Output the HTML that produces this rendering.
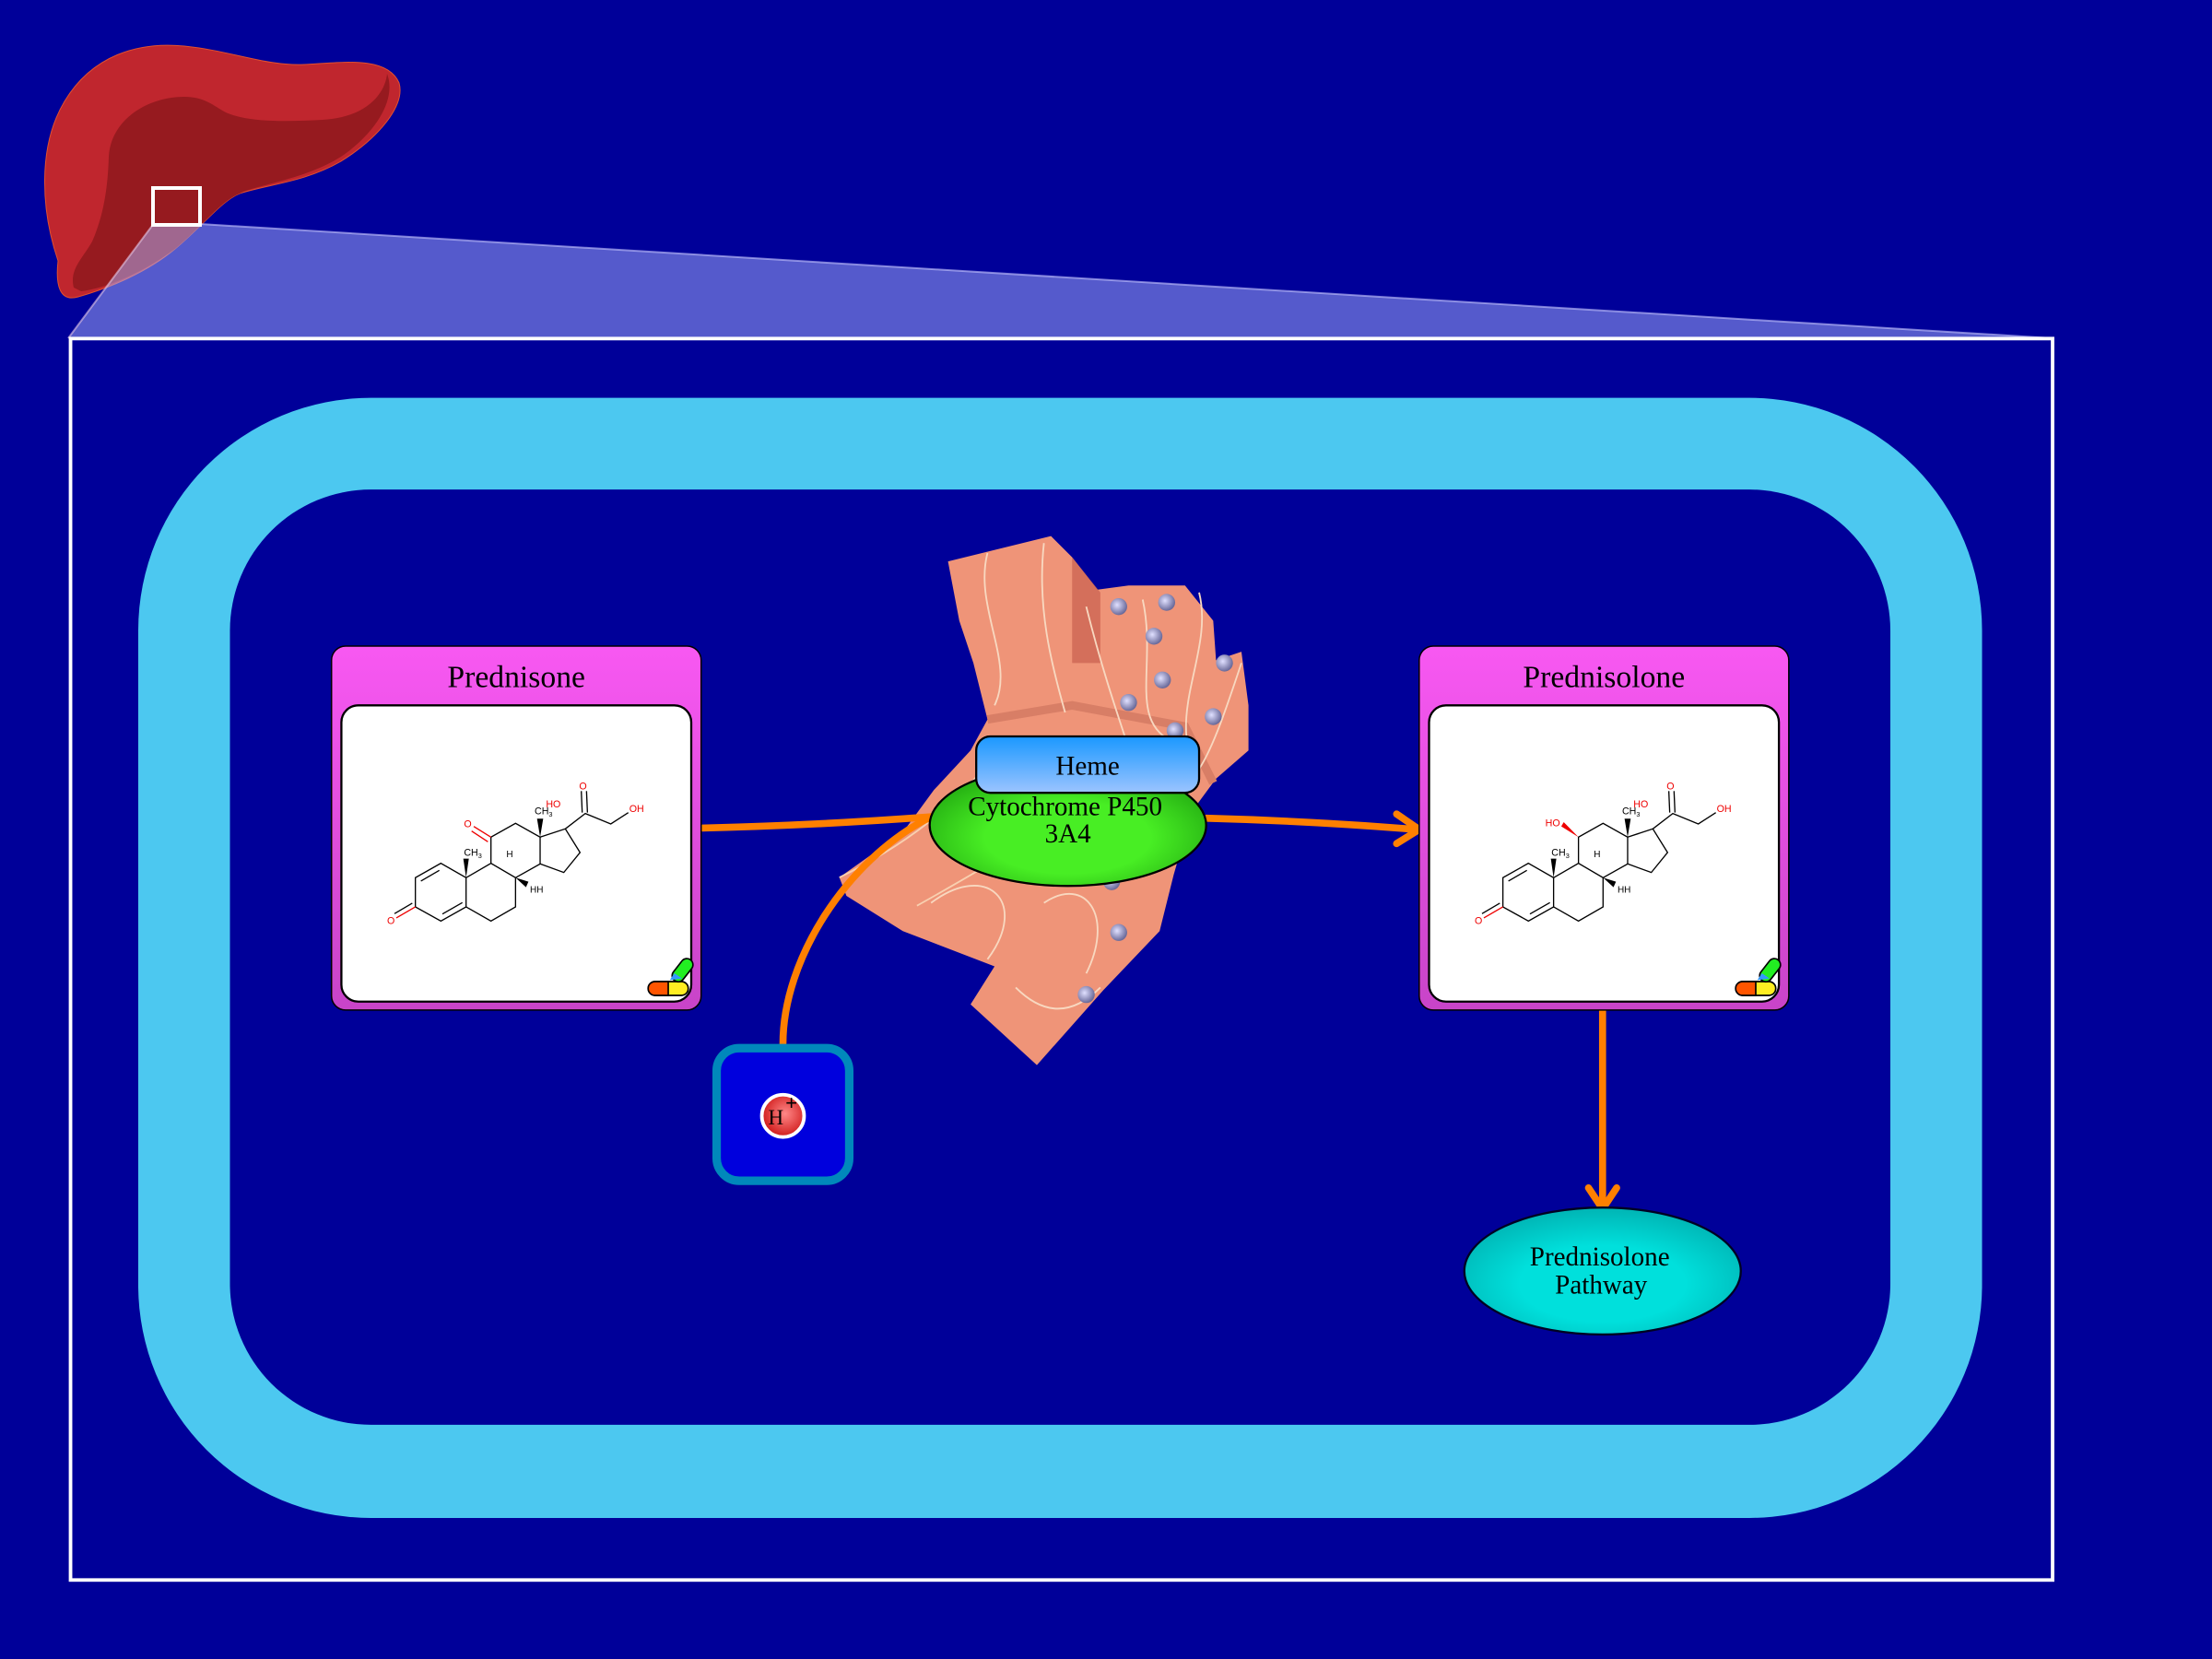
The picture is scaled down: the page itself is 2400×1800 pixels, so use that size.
<!DOCTYPE html>
<html><head><meta charset="utf-8"><style>
html,body{margin:0;padding:0;background:#000099;}
svg{display:block;}
text{font-family:"Liberation Serif",serif;}
.mol text{font-family:"Liberation Sans",sans-serif;}
</style></head><body>
<svg width="2400" height="1800" viewBox="0 0 1568 1176" xmlns="http://www.w3.org/2000/svg">
<defs>
<linearGradient id="box" x1="0" y1="0" x2="0" y2="1"><stop offset="0" stop-color="#f858f2"/><stop offset="1" stop-color="#c844c8"/></linearGradient>
<linearGradient id="heme" x1="0" y1="0" x2="0" y2="1"><stop offset="0" stop-color="#1a98ff"/><stop offset="1" stop-color="#9cc4ff"/></linearGradient>
<radialGradient id="cyp" cx="0.5" cy="0.6" r="0.6"><stop offset="0.5" stop-color="#48ee24"/><stop offset="1" stop-color="#22aa11"/></radialGradient>
<radialGradient id="path" cx="0.5" cy="0.6" r="0.6"><stop offset="0.5" stop-color="#00e0dc"/><stop offset="1" stop-color="#00b4b4"/></radialGradient>
<radialGradient id="hr" cx="0.55" cy="0.45" r="0.6"><stop offset="0" stop-color="#ff8888"/><stop offset="1" stop-color="#cc1111"/></radialGradient>
<radialGradient id="dot" cx="0.4" cy="0.4" r="0.6"><stop offset="0" stop-color="#e0e0ff"/><stop offset="1" stop-color="#6a6a9a"/></radialGradient>
</defs>
<rect width="1568" height="1176" fill="#000099"/>
<g transform="scale(0.65333)">
<path d="M63,283 C45,230 40,160 70,110 C100,60 150,45 200,50 C250,55 290,72 330,70 C370,68 420,60 433,90 C440,115 410,150 370,175 C330,198 290,200 260,210 C240,218 220,245 190,270 C160,295 120,312 85,322 C65,328 60,310 63,283 Z" fill="#c0262e" stroke="#e05030" stroke-width="1"/>
<path d="M80,312 C75,292 90,280 100,262 C112,235 117,205 118,170 C120,130 160,105 200,105 C222,105 232,115 245,122 C270,133 310,132 350,130 C400,127 418,100 420,80 C432,112 400,150 370,170 C330,195 280,200 260,210 C240,218 220,245 190,270 C160,292 120,312 88,316 Z" fill="#961a1f"/>
<polygon points="165,245 217,243 2227,367 74,367" fill="rgba(170,180,255,0.5)"/>
<line x1="165" y1="245" x2="74" y2="367" stroke="rgba(230,200,230,0.6)" stroke-width="2"/>
<line x1="217" y1="243" x2="2227" y2="367" stroke="rgba(200,200,255,0.6)" stroke-width="2"/>
<rect x="166" y="204" width="51" height="40" fill="none" stroke="#fff" stroke-width="4"/>
</g>
<rect x="50" y="240" width="1405" height="880" fill="none" stroke="#fff" stroke-width="2.5"/>
<rect x="98" y="282" width="1307" height="794" rx="165" fill="#4cc8f0"/>
<rect x="163" y="347" width="1177" height="663" rx="100" fill="#000099"/>
<g>
<path d="M672,398 L745,380 L760,395 L778,418 L800,415 L840,415 L860,440 L862,468 L880,462 L885,500 L885,532 L862,552 L845,575 L832,620 L822,660 L782,702 L735,755 L688,712 L705,685 L640,660 L600,635 L595,622 L640,590 L662,560 L688,532 L700,510 L690,470 L680,440 Z" fill="#ef9478"/>
<path d="M760,395 L780,420 L780,470 L760,470 Z" fill="#c9604e" opacity="0.7"/>
<path d="M700,510 L760,500 L840,515 L860,555" fill="none" stroke="#d87e66" stroke-width="6"/>
<path d="M595,622 C640,600 680,570 700,540 M650,642 C690,620 720,600 745,590" fill="none" stroke="#f8d0b0" stroke-width="1.2"/>
<g fill="none" stroke="#f8d8c0" stroke-width="1.2">
<path d="M700,392 C690,430 720,470 705,500 M740,385 C735,430 745,470 755,505"/>
<path d="M770,430 C780,470 790,500 800,530 M810,425 C820,470 800,510 830,525"/>
<path d="M850,420 C860,460 830,500 845,540 M880,470 C870,500 860,530 850,545"/>
<path d="M660,640 C700,610 730,640 700,680 M740,640 C770,620 790,650 770,690 M720,700 C740,720 760,720 780,700"/>
</g>
<g fill="url(#dot)">
<circle cx="793" cy="430" r="6"/><circle cx="827" cy="427" r="6"/><circle cx="818" cy="451" r="6"/><circle cx="824" cy="482" r="6"/><circle cx="868" cy="470" r="6"/><circle cx="800" cy="498" r="6"/><circle cx="860" cy="508" r="6"/><circle cx="833" cy="518" r="6"/><circle cx="788" cy="625" r="6"/><circle cx="793" cy="661" r="6"/><circle cx="770" cy="705" r="6"/>
</g>
</g>
<g fill="none" stroke="#ff8000" stroke-width="5" stroke-linecap="round">
<path d="M497,587 Q580,585 660,579"/>
<path d="M555,740 C555,680 600,610 658,580"/>
<path d="M855,580 Q930,582 1004,588"/>
<polyline points="990,577 1006,588 990,598"/>
<path d="M1136,716 L1136,856"/>
<polyline points="1126,842 1136,857 1146,842"/>
</g>
<rect x="508" y="743" width="94" height="94" rx="16" fill="#0000dd" stroke="#0088bb" stroke-width="6"/>
<circle cx="555" cy="791" r="15" fill="url(#hr)" stroke="#fff" stroke-width="2.5"/>
<text x="550" y="797" font-size="15" text-anchor="middle">H</text>
<text x="561" y="787" font-size="15" font-family="Liberation Sans,sans-serif" font-weight="bold" text-anchor="middle">+</text>
<ellipse cx="757" cy="585" rx="98" ry="43" fill="url(#cyp)" stroke="#000" stroke-width="1.5"/>
<rect x="692" y="522" width="158" height="40" rx="10" fill="url(#heme)" stroke="#000" stroke-width="1.5"/>
<text x="771" y="549" font-size="19" text-anchor="middle">Heme</text>
<text x="755" y="578" font-size="19" text-anchor="middle">Cytochrome P450</text>
<text x="757" y="597" font-size="19" text-anchor="middle">3A4</text>
<ellipse cx="1136" cy="901" rx="98" ry="45" fill="url(#path)" stroke="#002" stroke-width="1.5"/>
<text x="1134" y="897" font-size="19" text-anchor="middle">Prednisolone</text>
<text x="1135" y="917" font-size="19" text-anchor="middle">Pathway</text>
<rect x="235" y="458" width="262" height="258" rx="10" fill="url(#box)" stroke="#000" stroke-width="1"/>
<text x="366" y="487" font-size="22" text-anchor="middle">Prednisone</text>
<rect x="242" y="500" width="248" height="210" rx="12" fill="#fff" stroke="#000" stroke-width="1.5"/>
<g class="mol" transform="translate(235.2,457.3) scale(0.2178)">
<g fill="none" stroke="#000" stroke-width="4">
<polygon points="355,710 272,757 272,852 355,898 437,852 437,757"/>
<line x1="290" y1="768" x2="350" y2="733"/><line x1="360" y1="875" x2="425" y2="838"/>
<polyline points="437,757 518,710 598,757 598,852 518,898 437,852"/>
<polyline points="518,710 518,625 598,580 678,625 678,712 598,757"/>
<polyline points="678,625 760,598 808,675 755,740 678,712"/>
<polyline points="760,598 825,548 908,582 965,545"/>
<line x1="815" y1="545" x2="812" y2="475"/><line x1="832" y1="545" x2="829" y2="475"/>
<line x1="518" y1="625" x2="462" y2="590" stroke="#e00"/><line x1="508" y1="640" x2="455" y2="605" stroke="#e00"/>
<line x1="272" y1="852" x2="210" y2="888" stroke="#e00"/><line x1="262" y1="840" x2="204" y2="874"/>
</g>
<polygon points="437,757 428,695 446,695" fill="#000"/>
<polygon points="678,625 668,565 688,565" fill="#000"/>
<polygon points="598,757 640,770 632,788" fill="#000"/>
<text x="430" y="685" font-size="32">CH<tspan font-size="22" dy="8">3</tspan></text>
<text x="660" y="550" font-size="32">CH<tspan font-size="22" dy="8">3</tspan></text>
<text x="697" y="528" font-size="32" fill="#e00">HO</text>
<text x="805" y="470" font-size="32" fill="#e00">O</text>
<text x="968" y="543" font-size="32" fill="#e00">OH</text>
<text x="430" y="593" font-size="32" fill="#e00">O</text>
<text x="180" y="908" font-size="32" fill="#e00">O</text>
<text x="568" y="690" font-size="30">H</text>
<text x="645" y="805" font-size="30">HH</text>
</g>
<g transform="translate(235.2,457.3) scale(0.2178)">
<rect x="1030" y="1095" width="130" height="45" rx="22" fill="#ffee22" stroke="#000" stroke-width="5"/>
<path d="M1052,1095 L1095,1095 L1095,1140 L1052,1140 A22,22 0 0 1 1052,1095 Z" fill="#ff5500" stroke="#000" stroke-width="5"/>
<rect x="1100" y="1040" width="85" height="40" rx="20" transform="rotate(-52 1140 1060)" fill="#22ee22" stroke="#000" stroke-width="5"/>
<polygon points="1100,1090 1115,1068 1140,1085" fill="#3399ff"/>
</g>
<rect x="1006" y="458" width="262" height="258" rx="10" fill="url(#box)" stroke="#000" stroke-width="1"/>
<text x="1137" y="487" font-size="22" text-anchor="middle">Prednisolone</text>
<rect x="1013" y="500" width="248" height="210" rx="12" fill="#fff" stroke="#000" stroke-width="1.5"/>
<g class="mol" transform="translate(1006.1,457.3) scale(0.2178)">
<g fill="none" stroke="#000" stroke-width="4">
<polygon points="355,710 272,757 272,852 355,898 437,852 437,757"/>
<line x1="290" y1="768" x2="350" y2="733"/><line x1="360" y1="875" x2="425" y2="838"/>
<polyline points="437,757 518,710 598,757 598,852 518,898 437,852"/>
<polyline points="518,710 518,625 598,580 678,625 678,712 598,757"/>
<polyline points="678,625 760,598 808,675 755,740 678,712"/>
<polyline points="760,598 825,548 908,582 965,545"/>
<line x1="815" y1="545" x2="812" y2="475"/><line x1="832" y1="545" x2="829" y2="475"/>
<line x1="272" y1="852" x2="210" y2="888" stroke="#e00"/><line x1="262" y1="840" x2="204" y2="874"/>
</g>
<polygon points="518,625 462,590 470,576" fill="#e00"/>
<polygon points="437,757 428,695 446,695" fill="#000"/>
<polygon points="678,625 668,565 688,565" fill="#000"/>
<polygon points="598,757 640,770 632,788" fill="#000"/>
<text x="430" y="685" font-size="32">CH<tspan font-size="22" dy="8">3</tspan></text>
<text x="660" y="550" font-size="32">CH<tspan font-size="22" dy="8">3</tspan></text>
<text x="697" y="528" font-size="32" fill="#e00">HO</text>
<text x="805" y="470" font-size="32" fill="#e00">O</text>
<text x="968" y="543" font-size="32" fill="#e00">OH</text>
<text x="410" y="590" font-size="32" fill="#e00">HO</text>
<text x="180" y="908" font-size="32" fill="#e00">O</text>
<text x="568" y="690" font-size="30">H</text>
<text x="645" y="805" font-size="30">HH</text>
</g>
<g transform="translate(1006.1,457.3) scale(0.2178)">
<rect x="1030" y="1095" width="130" height="45" rx="22" fill="#ffee22" stroke="#000" stroke-width="5"/>
<path d="M1052,1095 L1095,1095 L1095,1140 L1052,1140 A22,22 0 0 1 1052,1095 Z" fill="#ff5500" stroke="#000" stroke-width="5"/>
<rect x="1100" y="1040" width="85" height="40" rx="20" transform="rotate(-52 1140 1060)" fill="#22ee22" stroke="#000" stroke-width="5"/>
<polygon points="1100,1090 1115,1068 1140,1085" fill="#3399ff"/>
</g>
</svg>
</body></html>
